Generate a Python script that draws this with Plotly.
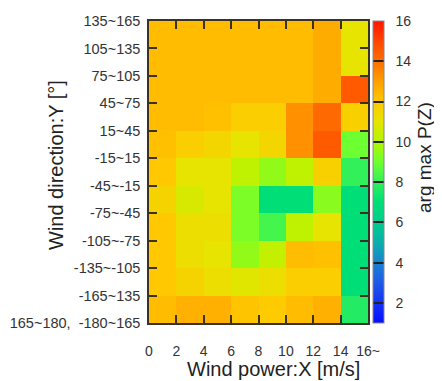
import plotly.graph_objects as go

x_edges = [0, 2, 4, 6, 8, 10, 12, 14, 16]
x_ticktext = ["0", "2", "4", "6", "8", "10", "12", "14", "16~"]
y_edges = list(range(12))
y_ticktext = ["165~180,  -180~165", "-165~135", "-135~-105", "-105~-75", "-75~-45",
              "-45~-15", "-15~15", "15~45", "45~75", "75~105", "105~135", "135~165"]
cbar_ticks = [2, 4, 6, 8, 10, 12, 14, 16]

# rows from bottom to top, columns wind power 0-2 ... 14-16
z = [
    [12.3, 12.6, 12.6, 12.1, 11.9, 12.3, 12.6, 7.7],
    [12.0, 11.6, 11.2, 10.9, 11.2, 11.8, 11.8, 7.0],
    [12.0, 11.2, 11.0, 9.5, 10.3, 12.3, 12.2, 7.0],
    [12.0, 11.2, 11.2, 9.2, 8.3, 10.2, 11.0, 7.0],
    [11.6, 10.7, 11.0, 9.2, 7.0, 7.0, 9.4, 7.0],
    [12.0, 11.0, 11.0, 10.2, 9.5, 10.2, 11.7, 8.0],
    [12.2, 11.8, 11.5, 11.0, 11.5, 13.3, 14.5, 9.0],
    [12.3, 12.3, 12.2, 11.8, 11.8, 13.3, 14.1, 11.7],
    [12.3, 12.3, 12.3, 12.3, 12.3, 12.3, 12.7, 14.5],
    [12.3, 12.3, 12.3, 12.3, 12.3, 12.3, 12.7, 11.0],
    [12.3, 12.3, 12.3, 12.3, 12.3, 12.3, 12.7, 11.0],
]

zmin, zmax = 1, 16
stops = [
    (1, "rgb(5,15,255)"), (2, "rgb(20,50,245)"), (3, "rgb(30,90,230)"),
    (4, "rgb(25,130,210)"), (5, "rgb(10,175,170)"), (6, "rgb(0,205,140)"),
    (7, "rgb(0,222,120)"), (8, "rgb(50,240,90)"), (9, "rgb(110,255,50)"),
    (10, "rgb(180,245,0)"), (11, "rgb(230,228,0)"), (12, "rgb(255,200,0)"),
    (13, "rgb(255,160,0)"), (14, "rgb(255,110,0)"), (15, "rgb(255,70,0)"),
    (16, "rgb(255,20,0)"),
]
colorscale = [[(v - zmin) / (zmax - zmin), c] for v, c in stops]

FONT = "Liberation Sans, Arial"

# page body has an 8px margin: the figure starts at (8, 8) in the window
OFF = 8
W, H = 442 - OFF, 381 - OFF
PL, PR, PT, PB = 149, 368, 21, 323  # plot area in window pixels
pw, ph = PR - PL, PB - PT


def px(xw):
    return (xw - PL) / pw


def py(yw):
    return (PB - yw) / ph


fig = go.Figure(go.Heatmap(
    x=x_edges, y=y_edges, z=z, zmin=zmin, zmax=zmax, colorscale=colorscale,
    colorbar=dict(
        thickness=11, len=1, lenmode="fraction", y=0.5, yanchor="middle",
        x=px(373), xanchor="left", xpad=0, ypad=0,
        outlinewidth=1, outlinecolor="#888",
        tickvals=cbar_ticks, ticktext=["\u00a0\u00a0" + str(v) for v in cbar_ticks],
        ticks="inside", ticklen=11, tickcolor="#222", tickwidth=1.5,
        tickfont=dict(family=FONT, size=14, color="#333"),
    ),
))

axis_common = dict(
    showline=True, linecolor="#3a3226", linewidth=1.5, mirror="ticks",
    ticks="inside", ticklen=8, tickcolor="#3a3226", tickwidth=1.5,
    showgrid=True, gridcolor="rgba(255,255,255,0.3)", gridwidth=1,
    zeroline=False, layer="above traces", automargin=False,
)

fig.update_xaxes(
    range=[0, 16], tickvals=x_edges, ticktext=x_ticktext, ticklabelstandoff=14,
    tickfont=dict(family=FONT, size=14, color="#333"),
    **axis_common,
)
fig.update_yaxes(
    range=[0, 11], tickvals=y_edges, ticktext=y_ticktext, ticklabelstandoff=4,
    tickfont=dict(family=FONT, size=14.5, color="#333"),
    **axis_common,
)

fig.add_annotation(
    text="Wind power:X [m/s]", xref="paper", yref="paper",
    x=px(273), y=py(369), xanchor="center", yanchor="middle",
    showarrow=False, font=dict(family=FONT, size=20, color="#222"),
)
fig.add_annotation(
    text="Wind direction:Y [°]", xref="paper", yref="paper", textangle=-90,
    x=px(56), y=py(165), xanchor="center", yanchor="middle",
    showarrow=False, font=dict(family=FONT, size=20, color="#222"),
)
fig.add_annotation(
    text="arg max P(Z)", xref="paper", yref="paper", textangle=-90,
    x=px(424), y=py(158), xanchor="center", yanchor="middle",
    showarrow=False, font=dict(family=FONT, size=19, color="#222"),
)

fig.update_layout(
    width=W, height=H,
    margin=dict(l=PL - OFF, r=W - (PR - OFF), t=PT - OFF, b=H - (PB - OFF),
                autoexpand=False),
    paper_bgcolor="white", plot_bgcolor="white",
)

fig.write_html("out.html", default_width=f"{W}px", default_height=f"{H}px")
